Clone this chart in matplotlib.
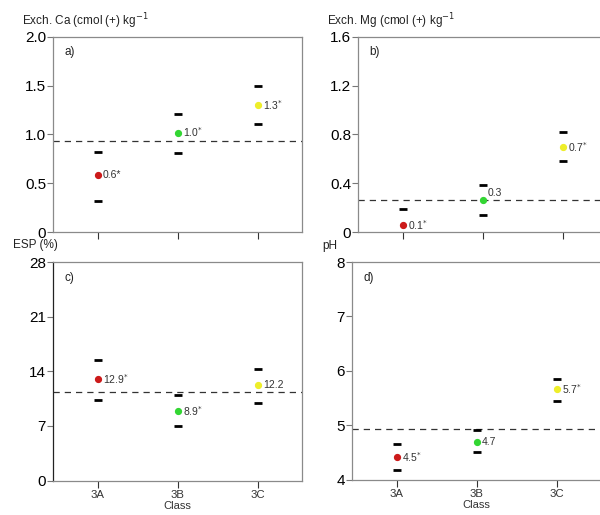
import matplotlib
matplotlib.use("Agg")
import matplotlib.pyplot as plt

plt.rcParams['font.family'] = ['Liberation Sans', 'DejaVu Sans']

classes = ["3A", "3B", "3C"]
colors = ["#cc1a1a", "#33d633", "#eeee2a"]

ca_mean = [0.58, 1.02, 1.30]
ca_upper = [0.82, 1.21, 1.50]
ca_lower = [0.32, 0.81, 1.11]
ca_ref = 0.93
ca_labels = ["0.6*", "1.0$^{*}$", "1.3$^{*}$"]

mg_mean = [0.055, 0.265, 0.70]
mg_upper = [0.19, 0.385, 0.82]
mg_lower = [-0.05, 0.14, 0.58]
mg_ref = 0.265
mg_labels = ["0.1$^{*}$", "0.3", "0.7$^{*}$"]

esp_mean = [13.0, 8.95, 12.25]
esp_upper = [15.4, 11.0, 14.3]
esp_lower = [10.35, 7.0, 9.9]
esp_ref = 11.4
esp_labels = ["12.9$^{*}$", "8.9$^{*}$", "12.2"]

ph_mean = [4.42, 4.69, 5.66]
ph_upper = [4.65, 4.91, 5.84]
ph_lower = [4.18, 4.51, 5.45]
ph_ref = 4.92
ph_labels = ["4.5$^{*}$", "4.7", "5.7$^{*}$"]

fig = plt.figure(figsize=(6.0, 5.15), dpi=100)
W, H = 600.0, 515.0

def add_ax(left, top, right, bottom):
    return fig.add_axes([left / W, 1 - bottom / H, (right - left) / W, (bottom - top) / H])

ax_a = add_ax(53, 37, 302, 232)
ax_b = add_ax(358, 37, 607, 232)
ax_c = add_ax(53, 262, 302, 480.5)
ax_d = add_ax(352, 262, 601, 479.5)

panels = [
    (ax_a, ca_mean, ca_upper, ca_lower, ca_ref, ca_labels, (0, 2.0), [0, 0.5, 1.0, 1.5, 2.0],
     ["0", "0.5", "1.0", "1.5", "2.0"], "a)", "Exch. Ca (cmol (+) kg$^{-1}$", (22, 21), False),
    (ax_b, mg_mean, mg_upper, mg_lower, mg_ref, mg_labels, (0, 1.6), [0, 0.4, 0.8, 1.2, 1.6],
     ["0", "0.4", "0.8", "1.2", "1.6"], "b)", "Exch. Mg (cmol (+) kg$^{-1}$", (327, 21), False),
    (ax_c, esp_mean, esp_upper, esp_lower, esp_ref, esp_labels, (0, 28), [0, 7, 14, 21, 28],
     ["0", "7", "14", "21", "28"], "c)", "ESP (%)", (13, 245), True),
    (ax_d, ph_mean, ph_upper, ph_lower, ph_ref, ph_labels, (4, 8), [4, 5, 6, 7, 8],
     ["4", "5", "6", "7", "8"], "d)", "pH", (322, 246), True),
]

x = [1, 2, 3]
for (ax, mean, up, lo, ref, labels, ylim, yt, ytl, plabel, ylab, ylabpos, showx) in panels:
    ax.set_xlim(0.44, 3.55)
    ax.set_ylim(*ylim)
    ax.axhline(ref, color="#333333", lw=0.9, ls=(0, (5, 4)), zorder=1)
    ax.plot(x, up, ls="none", marker="_", ms=5.5, mew=2.0, color="black", zorder=3)
    ax.plot(x, lo, ls="none", marker="_", ms=5.5, mew=2.0, color="black", zorder=3)
    for xi, m, c, lab in zip(x, mean, colors, labels):
        ax.plot([xi], [m], ls="none", marker="o", ms=4.2, color=c, mec=c, zorder=4)
        dy = 5 if lab == "0.3" else 0
        ax.annotate(lab, (xi, m), xytext=(3.5, dy), textcoords="offset points",
                    fontsize=7.5, va="center", ha="left", color="#333333")
    ax.set_yticks(yt)
    ax.set_yticklabels(ytl, fontsize=11)
    ax.set_xticks(x)
    if showx:
        ax.set_xticklabels(classes, fontsize=8.2, color="#333333")
        ax.set_xlabel("Class", fontsize=8, color="#333333", labelpad=0.5)
    else:
        ax.set_xticklabels([])
    ax.tick_params(axis="y", length=4, width=0.8, color="#777777", pad=1)
    ax.tick_params(axis="x", length=5, width=0.8, color="#333333", pad=2)
    for s in ax.spines.values():
        s.set_color("#8a8a8a")
        s.set_linewidth(0.9)
    ax.text(0.045, 0.925, plabel, transform=ax.transAxes, fontsize=8.5, va="center", ha="left",
            color="#222222")
    fig.text(ylabpos[0] / W, 1 - ylabpos[1] / H, ylab, fontsize=8.5, va="center", ha="left",
             color="#222222")

ax_c.spines["left"].set_color("#222222")

fig.savefig("out.png", dpi=100)
